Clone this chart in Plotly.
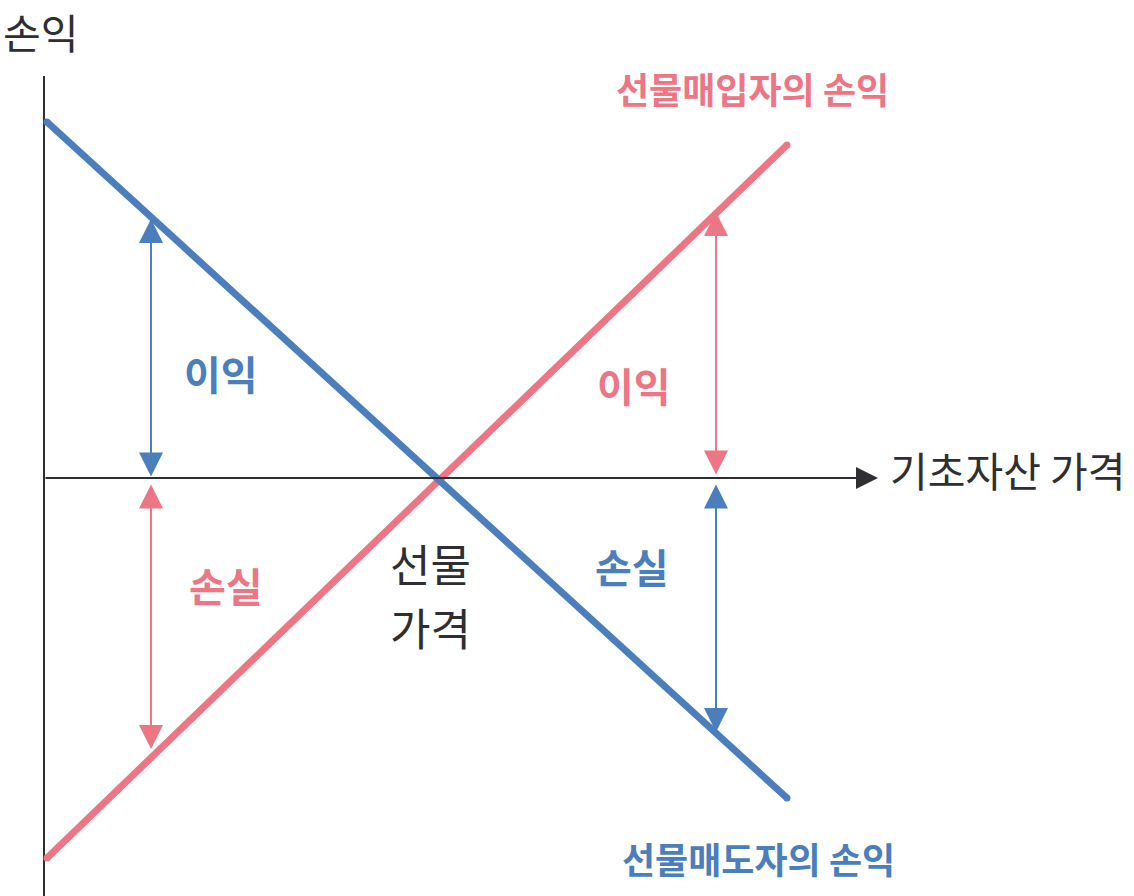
import plotly.graph_objects as go

# Data (price measured from the profit axis, profit from the price axis)
price_ends = [3, 743]
seller_profit = [356, -320]   # 선물매도자의 손익
buyer_profit = [-380, 333]    # 선물매입자의 손익
futures_price = 394

left_price = 107
right_price = 672
seller_arrows = {"left": [0, 259], "right": [-5, -254]}
buyer_arrows = {"left": [-5, -271], "right": [2, 266]}

axis_x_end = 834
axis_y_top = 402

BLUE = "#4A7EBD"
PINK = "#EE7684"
DARK = "#2E2E33"
FONT = "Noto Sans CJK KR"

fig = go.Figure()

fig.add_trace(go.Scatter(x=price_ends, y=buyer_profit, mode="lines+markers",
                         line=dict(color=PINK, width=7), marker=dict(size=7, color=PINK),
                         hoverinfo="skip", showlegend=False))
fig.add_trace(go.Scatter(x=price_ends, y=seller_profit, mode="lines+markers",
                         line=dict(color=BLUE, width=7), marker=dict(size=7, color=BLUE),
                         hoverinfo="skip", showlegend=False))

# vertical axis
fig.add_shape(type="line", x0=0, x1=0, y0=-440, y1=axis_y_top,
              line=dict(color=DARK, width=2), layer="below")

ann = []
# horizontal axis with arrow
ann.append(dict(x=axis_x_end, y=0, ax=0, ay=0, xref="x", yref="y", axref="x", ayref="y",
                showarrow=True, arrowhead=2, arrowsize=2.2, arrowwidth=2, arrowcolor=DARK,
                text=""))

def dbl_arrow(xv, ys, color):
    return dict(x=xv, y=ys[1], ax=xv, ay=ys[0], xref="x", yref="y", axref="x", ayref="y",
                showarrow=True, arrowside="end+start", arrowhead=2, startarrowhead=2,
                arrowsize=2.4, startarrowsize=2.4, arrowwidth=2, arrowcolor=color, text="")

ann.append(dbl_arrow(left_price, seller_arrows["left"], BLUE))
ann.append(dbl_arrow(left_price, buyer_arrows["left"], PINK))
ann.append(dbl_arrow(right_price, seller_arrows["right"], BLUE))
ann.append(dbl_arrow(right_price, buyer_arrows["right"], PINK))

def label(text, x, y, color, size, bold=False):
    t = f"<b>{text}</b>" if bold else text
    return dict(x=x, y=y, xref="x", yref="y", text=t, showarrow=False,
                font=dict(family=FONT, size=size, color=color), xanchor="center", yanchor="middle")

ann.append(label("손익", -4, 447, DARK, 41))
ann.append(label("기초자산 가격", 964, 9, DARK, 41))
ann.append(label("선물매입자의 손익", 708, 390, PINK, 36, True))
ann.append(label("선물매도자의 손익", 714, -380, BLUE, 36, True))
ann.append(label("이익", 177, 105, BLUE, 40, True))
ann.append(label("이익", 590, 93, PINK, 40, True))
ann.append(label("손실", 182, -107, PINK, 40, True))
ann.append(label("손실", 588, -88, BLUE, 40, True))
ann.append(label("선물", futures_price - 8, -85, DARK, 44))
ann.append(label("가격", futures_price - 8, -149, DARK, 44))

fig.update_layout(
    width=1134, height=896,
    margin=dict(l=0, r=0, t=0, b=0),
    paper_bgcolor="white", plot_bgcolor="white",
    xaxis=dict(range=[-44, 1090], visible=False, fixedrange=True),
    yaxis=dict(range=[-418, 478], visible=False, fixedrange=True),
    annotations=ann,
    showlegend=False,
)

fig.write_html("out.html", config={"displayModeBar": False},
               post_script="document.body.style.margin='0';")
